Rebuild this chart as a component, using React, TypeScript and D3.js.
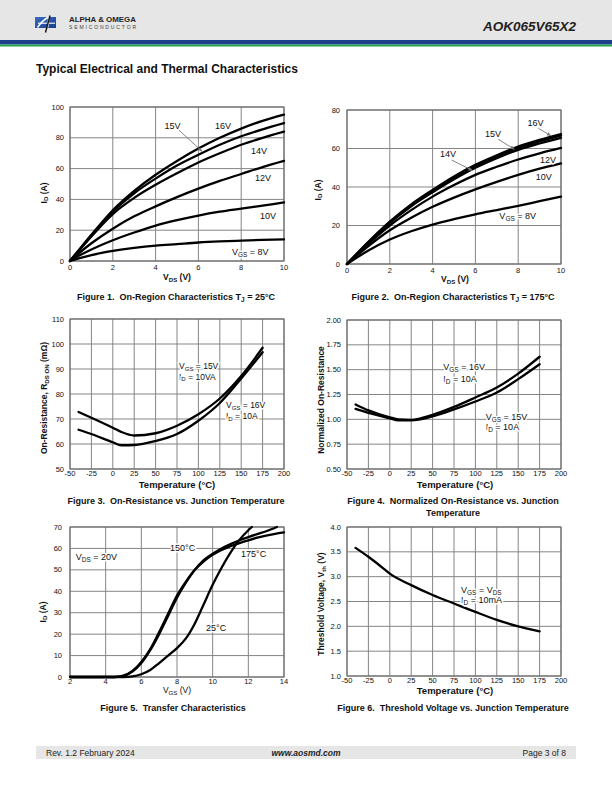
import React from "react";
import * as d3 from "d3";

const FONT = "'Liberation Sans', Arial, Helvetica, sans-serif";
const GRID = "#858585";

// ---------- Figure 1: On-Region Characteristics Tj = 25°C ----------
const f1Vds = [0, 0.5, 1, 2, 3, 4, 5, 6, 7, 8, 9, 10];
const f1Id16V = [0, 8.5, 17, 33, 45.5, 56, 65, 73, 80, 86, 91, 95];
const f1Id15V = [0, 8.5, 16.5, 32, 44, 53.5, 62, 69, 75.5, 81, 85.5, 89.5];
const f1Id14V = [0, 8, 16, 30.5, 41, 49.5, 57, 64, 70, 75.5, 80, 84];
const f1Id12V = [0, 6, 11.5, 21, 29, 35.5, 41.5, 47, 52, 56.5, 61, 65];
const f1Id10V = [0, 4, 7.5, 13.5, 18.5, 23, 26.5, 29.5, 32, 34, 36, 38];
const f1Id8V = [0, 2, 3.8, 6.5, 8.5, 10, 11, 12, 12.7, 13.2, 13.7, 14];
const f1XTicks = [0, 2, 4, 6, 8, 10];
const f1YTicks = [0, 20, 40, 60, 80, 100];

// ---------- Figure 2: On-Region Characteristics Tj = 175°C ----------
const f2Vds = [0, 1, 2, 3, 4, 5, 6, 7, 8, 9, 10];
const f2Id16V = [0, 11.5, 22, 31, 38.5, 45.5, 51.5, 56.5, 61, 64.5, 67.5];
const f2Id15V = [0, 11.3, 21.7, 30.5, 38, 45, 51, 56, 60.3, 63.7, 66.7];
const f2Id14V = [0, 11, 21.3, 30, 37.3, 44, 50, 55, 59.3, 62.6, 65.5];
const f2Id12V = [0, 10.5, 20, 28, 35, 41, 46.3, 50.5, 54.3, 57.5, 60.3];
const f2Id10V = [0, 9.3, 17.5, 24, 29.7, 34.5, 38.8, 42.7, 46.3, 49.5, 52.3];
const f2Id8V = [0, 7, 12.7, 17, 20.5, 23.3, 25.8, 28, 30.2, 32.6, 35];
const f2XTicks = [0, 2, 4, 6, 8, 10];
const f2YTicks = [0, 20, 40, 60, 80];

// ---------- Figure 3: On-Resistance vs. Junction Temperature ----------
const f3Temp = [-40, -25, 0, 10, 25, 50, 75, 100, 125, 150, 175];
const f3R15V = [72.8, 70.5, 66.5, 64.8, 63.4, 64.3, 67.3, 71.9, 78.2, 87.2, 98.5];
const f3R16V = [65.7, 64, 60.7, 59.5, 59.6, 61.2, 64, 69.3, 76.4, 86.2, 96.7];
const f3XTicks = [-50, -25, 0, 25, 50, 75, 100, 125, 150, 175, 200];
const f3YTicks = [50, 60, 70, 80, 90, 100, 110];

// ---------- Figure 4: Normalized On-Resistance vs. Junction Temperature ----------
const f4Temp = [-40, -25, 0, 10, 25, 50, 75, 100, 125, 150, 175];
const f4R16V = [1.15, 1.09, 1.02, 1.0, 0.995, 1.045, 1.125, 1.22, 1.32, 1.46, 1.63];
const f4R15V = [1.105, 1.065, 1.01, 0.99, 0.99, 1.03, 1.1, 1.18, 1.27, 1.405, 1.555];
const f4XTicks = [-50, -25, 0, 25, 50, 75, 100, 125, 150, 175, 200];
const f4YTicks = [0.5, 0.75, 1.0, 1.25, 1.5, 1.75, 2.0];

// ---------- Figure 5: Transfer Characteristics ----------
const f5Vgs25 = [2, 5, 5.5, 6, 6.5, 7, 7.5, 8, 8.5, 9, 9.5, 10, 10.5, 11, 11.5, 12, 12.2];
const f5Id25 = [0, 0, 0.3, 1.3, 3.3, 6.5, 10, 13.5, 18, 25, 34, 43, 51, 58, 64, 68.5, 70];
const f5Vgs150 = [2, 4.5, 5, 5.5, 6, 6.5, 7, 7.5, 8, 8.5, 9, 9.5, 10, 10.5, 11, 11.5, 12, 12.5, 13, 13.6];
const f5Id150 = [0, 0, 0.5, 2.5, 6.5, 12.5, 20, 28.5, 37, 44, 50, 54.5, 57.5, 60, 62, 63.8, 65.3, 66.7, 68, 70];
const f5Vgs175 = [2, 4.5, 5, 5.5, 6, 6.5, 7, 7.5, 8, 8.5, 9, 9.5, 10, 10.5, 11, 11.5, 12, 12.5, 13, 13.5, 14];
const f5Id175 = [0, 0, 0.6, 2.8, 7, 13, 21, 29.5, 38, 44.5, 50, 54, 57, 59.3, 61, 62.5, 63.8, 65, 66, 66.8, 67.5];
const f5XTicks = [2, 4, 6, 8, 10, 12, 14];
const f5YTicks = [0, 10, 20, 30, 40, 50, 60, 70];

// ---------- Figure 6: Threshold Voltage vs. Junction Temperature ----------
const f6Temp = [-40, -25, -10, 0, 25, 50, 75, 100, 125, 150, 175];
const f6Vth = [3.58, 3.4, 3.2, 3.06, 2.83, 2.63, 2.46, 2.29, 2.13, 2.0, 1.9];
const f6XTicks = [-50, -25, 0, 25, 50, 75, 100, 125, 150, 175, 200];
const f6YTicks = [1.0, 1.5, 2.0, 2.5, 3.0, 3.5, 4.0];

type Part = { t: string; sub?: boolean };
type Series = { x: number[]; y: number[] };
type Label = { x: number; y: number; parts: Part[]; size?: number };
type Arrow = { x1: number; y1: number; x2: number; y2: number };
type Box = { left: number; right: number; top: number; bottom: number };

function rich(parts: Part[], size: number) {
  const out: React.ReactNode[] = [];
  let shifted = false;
  const d = size * 0.22;
  parts.forEach((p, i) => {
    if (p.sub) {
      out.push(
        <tspan key={i} fontSize={size * 0.72} dy={shifted ? 0 : d}>
          {p.t}
        </tspan>
      );
      shifted = true;
    } else {
      out.push(
        <tspan key={i} fontSize={size} dy={shifted ? -d : 0}>
          {p.t}
        </tspan>
      );
      shifted = false;
    }
  });
  return out;
}

function Chart(props: {
  box: Box;
  xDomain: [number, number];
  yDomain: [number, number];
  xTicks: number[];
  yTicks: number[];
  xFmt?: (v: number) => string;
  yFmt?: (v: number) => string;
  series: Series[];
  labels?: Label[];
  arrows?: Arrow[];
  xTickOffset?: number;
  yTickOffset?: number;
}) {
  const { box, xDomain, yDomain, xTicks, yTicks, series } = props;
  const labels = props.labels || [];
  const arrows = props.arrows || [];
  const xFmt = props.xFmt || ((v: number) => String(v));
  const yFmt = props.yFmt || ((v: number) => String(v));
  const xOff = props.xTickOffset ?? 8.5;
  const yOff = props.yTickOffset ?? 6;
  const x = d3.scaleLinear().domain(xDomain).range([box.left, box.right]);
  const y = d3.scaleLinear().domain(yDomain).range([box.bottom, box.top]);
  const line = d3
    .line<[number, number]>()
    .x((d) => x(d[0]))
    .y((d) => y(d[1]))
    .curve(d3.curveMonotoneX);
  return (
    <g>
      {xTicks.map((t) => (
        <line key={"gx" + t} x1={x(t)} x2={x(t)} y1={box.top} y2={box.bottom} stroke={GRID} strokeWidth={1} />
      ))}
      {yTicks.map((t) => (
        <line key={"gy" + t} x1={box.left} x2={box.right} y1={y(t)} y2={y(t)} stroke={GRID} strokeWidth={1} />
      ))}
      <rect x={box.left} y={box.top} width={box.right - box.left} height={box.bottom - box.top} fill="none" stroke="#6a6a6a" strokeWidth={1.1} />
      {series.map((s, i) => (
        <path
          key={"s" + i}
          d={line(s.x.map((v, j) => [v, s.y[j]] as [number, number])) || ""}
          fill="none"
          stroke="#000"
          strokeWidth={2.3}
          strokeLinejoin="round"
          strokeLinecap="round"
        />
      ))}
      {arrows.map((a, i) => (
        <line key={"a" + i} x1={x(a.x1)} y1={y(a.y1)} x2={x(a.x2)} y2={y(a.y2)} stroke="#777" strokeWidth={0.9} markerEnd="url(#arrowhead)" />
      ))}
      {labels.map((l, i) => (
        <text
          key={"l" + i}
          x={x(l.x)}
          y={y(l.y)}
          fontSize={l.size || 9}
          fill="#111"
          stroke="#fff"
          strokeWidth={3}
          strokeLinejoin="round"
          style={{ paintOrder: "stroke", whiteSpace: "pre" }}
        >
          {rich(l.parts, l.size || 9)}
        </text>
      ))}
      {xTicks.map((t) => (
        <text key={"tx" + t} x={x(t)} y={box.bottom + xOff} fontSize={7.5} textAnchor="middle" fill="#111">
          {xFmt(t)}
        </text>
      ))}
      {yTicks.map((t) => (
        <text key={"ty" + t} x={box.left - yOff} y={y(t) + 2.6} fontSize={7.5} textAnchor="end" fill="#111">
          {yFmt(t)}
        </text>
      ))}
    </g>
  );
}

function YTitle({ x, y, parts, size = 8.5, bold = true }: { x: number; y: number; parts: Part[]; size?: number; bold?: boolean }) {
  return (
    <text x={x} y={y} transform={`rotate(-90 ${x} ${y})`} textAnchor="middle" fontSize={size} fontWeight={bold ? "bold" : "normal"} fill="#111" style={{ whiteSpace: "pre" }}>
      {rich(parts, size)}
    </text>
  );
}

function XTitle({ x, y, parts, size = 8.5, bold = true }: { x: number; y: number; parts: Part[]; size?: number; bold?: boolean }) {
  return (
    <text x={x} y={y} textAnchor="middle" fontSize={size} fontWeight={bold ? "bold" : "normal"} fill="#111" style={{ whiteSpace: "pre" }}>
      {rich(parts, size)}
    </text>
  );
}

function Caption({ x, y, parts }: { x: number; y: number; parts: Part[] }) {
  return (
    <text x={x} y={y} textAnchor="middle" fontSize={9} fontWeight="bold" fill="#111" style={{ whiteSpace: "pre" }}>
      {rich(parts, 9)}
    </text>
  );
}

const fmt2 = (v: number) => v.toFixed(2);
const fmt1 = (v: number) => v.toFixed(1);

export default function App() {
  return (
    <svg
      width={612}
      height={792}
      viewBox="0 0 612 792"
      style={{ position: "absolute", left: 0, top: 0, fontFamily: FONT, background: "#fff" }}
    >
      <defs>
        <marker id="arrowhead" viewBox="0 0 10 10" refX="9" refY="5" markerWidth="5" markerHeight="5" orient="auto">
          <path d="M0,1 L10,5 L0,9 z" fill="#777" />
        </marker>
        <linearGradient id="logoGrad" x1="0" y1="0" x2="1" y2="1">
          <stop offset="0" stopColor="#3a6cc0" />
          <stop offset="1" stopColor="#163f8e" />
        </linearGradient>
      </defs>

      {/* Header */}
      <rect x={0} y={0} width={612} height={40} fill="#e6e6e6" />
      <rect x={0} y={40} width={612} height={4.5} fill="#1d3f8c" />
      <rect x={0} y={44.5} width={612} height={2} fill="#25a24f" />
      <rect x={35} y={17} width={21} height={11} fill="url(#logoGrad)" />
      <path d="M37.5,27.5 C40,24 43,20 47.5,17.8 L48.8,17.8 L47.6,27.5" fill="none" stroke="#fff" strokeWidth={1.6} />
      <path d="M38,23.2 L55,23.2" stroke="#fff" strokeWidth={1.1} />
      <path d="M50,15.5 L45.5,32.5" stroke="#111" strokeWidth={1.4} />
      <text x={69} y={22.3} fontSize={8} fontWeight="bold" fill="#222" textLength={67} lengthAdjust="spacingAndGlyphs">
        ALPHA &amp; OMEGA
      </text>
      <text x={69} y={29.2} fontSize={5} fill="#444" textLength={67} lengthAdjust="spacing">
        SEMICONDUCTOR
      </text>
      <text x={576} y={31} fontSize={13.5} fontWeight="bold" fontStyle="italic" textAnchor="end" fill="#222">
        AOK065V65X2
      </text>

      {/* Title */}
      <text x={36} y={72.5} fontSize={12} fontWeight="bold" fill="#111">
        Typical Electrical and Thermal Characteristics
      </text>

      {/* Figure 1 */}
      <Chart
        box={{ left: 70, right: 284, top: 107, bottom: 261 }}
        xDomain={[0, 10]}
        yDomain={[0, 100]}
        xTicks={f1XTicks}
        yTicks={f1YTicks}
        series={[
          { x: f1Vds, y: f1Id16V },
          { x: f1Vds, y: f1Id15V },
          { x: f1Vds, y: f1Id14V },
          { x: f1Vds, y: f1Id12V },
          { x: f1Vds, y: f1Id10V },
          { x: f1Vds, y: f1Id8V },
        ]}
        labels={[
          { x: 4.42, y: 86, parts: [{ t: "15V" }] },
          { x: 6.78, y: 85.5, parts: [{ t: "16V" }] },
          { x: 8.46, y: 69.5, parts: [{ t: "14V" }] },
          { x: 8.64, y: 52, parts: [{ t: "12V" }] },
          { x: 8.88, y: 27.3, parts: [{ t: "10V" }] },
          { x: 7.57, y: 3.6, parts: [{ t: "V" }, { t: "GS", sub: true }, { t: " = 8V" }] },
        ]}
        arrows={[{ x1: 5.09, y1: 85, x2: 6.17, y2: 71.2 }]}
        xTickOffset={9}
      />
      <XTitle x={177} y={280} parts={[{ t: "V" }, { t: "DS", sub: true }, { t: " (V)" }]} />
      <YTitle x={46.5} y={193} parts={[{ t: "I" }, { t: "D", sub: true }, { t: " (A)" }]} />
      <Caption x={176} y={300} parts={[{ t: "Figure 1.  On-Region Characteristics T" }, { t: "J", sub: true }, { t: " = 25°C" }]} />

      {/* Figure 2 */}
      <Chart
        box={{ left: 347, right: 561, top: 110, bottom: 264 }}
        xDomain={[0, 10]}
        yDomain={[0, 80]}
        xTicks={f2XTicks}
        yTicks={f2YTicks}
        series={[
          { x: f2Vds, y: f2Id16V },
          { x: f2Vds, y: f2Id15V },
          { x: f2Vds, y: f2Id14V },
          { x: f2Vds, y: f2Id12V },
          { x: f2Vds, y: f2Id10V },
          { x: f2Vds, y: f2Id8V },
        ]}
        labels={[
          { x: 8.44, y: 71.7, parts: [{ t: "16V" }] },
          { x: 6.45, y: 65.8, parts: [{ t: "15V" }] },
          { x: 4.35, y: 55.4, parts: [{ t: "14V" }] },
          { x: 9.02, y: 52.6, parts: [{ t: "12V" }] },
          { x: 8.82, y: 43.6, parts: [{ t: "10V" }] },
          { x: 7.12, y: 23.2, parts: [{ t: "V" }, { t: "GS", sub: true }, { t: " = 8V" }] },
        ]}
        arrows={[
          { x1: 8.94, y1: 70.5, x2: 9.53, y2: 66.6 },
          { x1: 7.07, y1: 64.8, x2: 7.82, y2: 59.6 },
          { x1: 4.89, y1: 54, x2: 5.86, y2: 48.6 },
        ]}
        xTickOffset={9}
        yTickOffset={7}
      />
      <XTitle x={455} y={282} parts={[{ t: "V" }, { t: "DS", sub: true }, { t: " (V)" }]} />
      <YTitle x={320.5} y={190} parts={[{ t: "I" }, { t: "D", sub: true }, { t: " (A)" }]} />
      <Caption x={453} y={300} parts={[{ t: "Figure 2.  On-Region Characteristics T" }, { t: "J", sub: true }, { t: " = 175°C" }]} />

      {/* Figure 3 */}
      <Chart
        box={{ left: 70, right: 284, top: 319, bottom: 469 }}
        xDomain={[-50, 200]}
        yDomain={[50, 110]}
        xTicks={f3XTicks}
        yTicks={f3YTicks}
        series={[
          { x: f3Temp, y: f3R15V },
          { x: f3Temp, y: f3R16V },
        ]}
        labels={[
          { x: 77.3, y: 90, size: 8.5, parts: [{ t: "V" }, { t: "GS", sub: true }, { t: " = 15V" }] },
          { x: 77.3, y: 85.8, size: 8.5, parts: [{ t: "I" }, { t: "D", sub: true }, { t: " = 10VA" }] },
          { x: 132.2, y: 74.3, size: 8.5, parts: [{ t: "V" }, { t: "GS", sub: true }, { t: " = 16V" }] },
          { x: 132.2, y: 70.1, size: 8.5, parts: [{ t: "I" }, { t: "D", sub: true }, { t: " = 10A" }] },
        ]}
        xTickOffset={7}
      />
      <XTitle x={177} y={487.5} size={9.5} parts={[{ t: "Temperature (°C)" }]} />
      <YTitle x={47} y={398} parts={[{ t: "On-Resistance, R" }, { t: "DS ON", sub: true }, { t: " (mΩ)" }]} />
      <Caption x={176} y={504} parts={[{ t: "Figure 3.  On-Resistance vs. Junction Temperature" }]} />

      {/* Figure 4 */}
      <Chart
        box={{ left: 347, right: 561, top: 320, bottom: 469 }}
        xDomain={[-50, 200]}
        yDomain={[0.5, 2.0]}
        xTicks={f4XTicks}
        yTicks={f4YTicks}
        yFmt={fmt2}
        series={[
          { x: f4Temp, y: f4R16V },
          { x: f4Temp, y: f4R15V },
        ]}
        labels={[
          { x: 62.5, y: 1.497, parts: [{ t: "V" }, { t: "GS", sub: true }, { t: " = 16V" }] },
          { x: 62.5, y: 1.379, parts: [{ t: "I" }, { t: "D", sub: true }, { t: " = 10A" }] },
          { x: 112, y: 0.993, parts: [{ t: "V" }, { t: "GS", sub: true }, { t: " = 15V" }] },
          { x: 112, y: 0.893, parts: [{ t: "I" }, { t: "D", sub: true }, { t: " = 10A" }] },
        ]}
        xTickOffset={7}
      />
      <XTitle x={455} y={487.5} size={9.5} parts={[{ t: "Temperature (°C)" }]} />
      <YTitle x={324} y={400} parts={[{ t: "Normalized On-Resistance" }]} />
      <Caption x={453} y={504} parts={[{ t: "Figure 4.  Normalized On-Resistance vs. Junction" }]} />
      <Caption x={453} y={516} parts={[{ t: "Temperature" }]} />

      {/* Figure 5 */}
      <Chart
        box={{ left: 70, right: 284, top: 527, bottom: 677 }}
        xDomain={[2, 14]}
        yDomain={[0, 70]}
        xTicks={f5XTicks}
        yTicks={f5YTicks}
        series={[
          { x: f5Vgs25, y: f5Id25 },
          { x: f5Vgs150, y: f5Id150 },
          { x: f5Vgs175, y: f5Id175 },
        ]}
        labels={[
          { x: 2.32, y: 54.6, parts: [{ t: "V" }, { t: "DS", sub: true }, { t: " = 20V" }] },
          { x: 7.61, y: 58.8, parts: [{ t: "150°C" }] },
          { x: 11.59, y: 56.1, parts: [{ t: "175°C" }] },
          { x: 9.63, y: 21.5, parts: [{ t: "25°C" }] },
        ]}
        xTickOffset={6.5}
        yTickOffset={8}
      />
      <XTitle x={177} y={693} bold={false} parts={[{ t: "V" }, { t: "GS", sub: true }, { t: " (V)" }]} />
      <YTitle x={45.5} y={612} parts={[{ t: "I" }, { t: "D", sub: true }, { t: " (A)" }]} />
      <Caption x={173} y={711} parts={[{ t: "Figure 5.  Transfer Characteristics" }]} />

      {/* Figure 6 */}
      <Chart
        box={{ left: 347, right: 561, top: 527, bottom: 676 }}
        xDomain={[-50, 200]}
        yDomain={[1.0, 4.0]}
        xTicks={f6XTicks}
        yTicks={f6YTicks}
        yFmt={fmt1}
        series={[{ x: f6Temp, y: f6Vth }]}
        labels={[
          { x: 83.2, y: 2.68, parts: [{ t: "V" }, { t: "GS", sub: true }, { t: " = V" }, { t: "DS", sub: true }] },
          { x: 83.2, y: 2.46, parts: [{ t: "I" }, { t: "D", sub: true }, { t: " = 10mA" }] },
        ]}
        xTickOffset={6.5}
      />
      <XTitle x={455} y={693.5} size={9.5} parts={[{ t: "Temperature (°C)" }]} />
      <YTitle x={324} y={604} parts={[{ t: "Threshold Voltage, V" }, { t: "th", sub: true }, { t: " (V)" }]} />
      <Caption x={453} y={711} parts={[{ t: "Figure 6.  Threshold Voltage vs. Junction Temperature" }]} />

      {/* Footer */}
      <rect x={36} y={746} width={540} height={13} fill="#e6e6e6" />
      <text x={46} y={755.5} fontSize={8.5} fill="#222">
        Rev. 1.2 February 2024
      </text>
      <text x={306} y={755.5} fontSize={8.5} fontWeight="bold" fontStyle="italic" textAnchor="middle" fill="#222">
        www.aosmd.com
      </text>
      <text x={566} y={755.5} fontSize={8.5} textAnchor="end" fill="#222">
        Page 3 of 8
      </text>
    </svg>
  );
}
